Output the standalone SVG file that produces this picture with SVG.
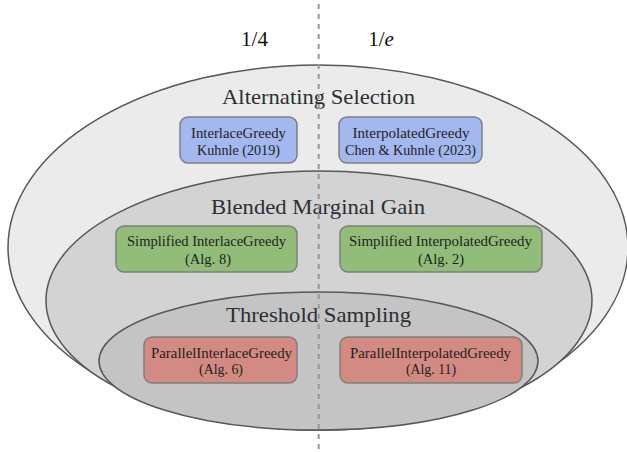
<svg xmlns="http://www.w3.org/2000/svg" width="627" height="452" viewBox="0 0 627 452">
<style>
.ell{stroke:#575757;stroke-width:1.5}
.box{stroke:#7f7f7f;stroke-width:1.5}
.blue{fill:#a3b8ef}
.green{fill:#91bd79}
.red{fill:#d38a83}
text{font-family:"Liberation Serif","DejaVu Serif",serif;fill:#1e1e1e;text-anchor:middle}
.title{font-size:22px;fill:#2a2f36}
.top{font-size:21px;fill:#111}
.lbl{font-size:14px}
</style>
<rect width="627" height="452" fill="#ffffff"/>
<g id="alternating-selection">
<ellipse class="ell" cx="318" cy="247.5" rx="310" ry="182.5" fill="#ebebeb"/>
<text class="title" x="318.5" y="104" textLength="193" lengthAdjust="spacingAndGlyphs">Alternating Selection</text>
</g>
<g id="blended-marginal-gain">
<ellipse class="ell" cx="319" cy="300.5" rx="273" ry="129.5" fill="#d3d3d3"/>
<text class="title" x="318" y="214" textLength="214" lengthAdjust="spacingAndGlyphs">Blended Marginal Gain</text>
</g>
<g id="threshold-sampling">
<ellipse class="ell" cx="318.5" cy="361" rx="219.5" ry="69" fill="#c4c4c4"/>
<text class="title" x="318.5" y="322" textLength="185" lengthAdjust="spacingAndGlyphs">Threshold Sampling</text>
</g>
<g id="connectors">
<line x1="318.7" y1="4" x2="318.7" y2="450" stroke="#979797" stroke-width="2" stroke-dasharray="5 5"/>
</g>
<g id="label-quarter">
<text class="top" x="254.5" y="46">1/4</text>
</g>
<g id="label-e">
<text class="top" x="381" y="46">1/<tspan font-style="italic">e</tspan></text>
</g>
<g id="interlace-greedy">
<rect class="box blue" x="180" y="117" width="117" height="46" rx="8"/>
<text class="lbl" x="238.5" y="137.5" textLength="95" lengthAdjust="spacingAndGlyphs">InterlaceGreedy</text>
<text class="lbl" x="238.5" y="155" textLength="83" lengthAdjust="spacingAndGlyphs">Kuhnle (2019)</text>
</g>
<g id="interpolated-greedy">
<rect class="box blue" x="339" y="117" width="143" height="46" rx="8"/>
<text class="lbl" x="411" y="137.5" textLength="117" lengthAdjust="spacingAndGlyphs">InterpolatedGreedy</text>
<text class="lbl" x="410.5" y="155" textLength="131" lengthAdjust="spacingAndGlyphs">Chen &amp; Kuhnle (2023)</text>
</g>
<g id="simplified-interlace-greedy">
<rect class="box green" x="116" y="226" width="181" height="46" rx="8"/>
<text class="lbl" x="206.5" y="246" textLength="159" lengthAdjust="spacingAndGlyphs">Simplified InterlaceGreedy</text>
<text class="lbl" x="208" y="264" textLength="46" lengthAdjust="spacingAndGlyphs">(Alg. 8)</text>
</g>
<g id="simplified-interpolated-greedy">
<rect class="box green" x="340" y="226" width="202" height="46" rx="8"/>
<text class="lbl" x="440.5" y="246" textLength="183" lengthAdjust="spacingAndGlyphs">Simplified InterpolatedGreedy</text>
<text class="lbl" x="441" y="264" textLength="46" lengthAdjust="spacingAndGlyphs">(Alg. 2)</text>
</g>
<g id="parallel-interlace-greedy">
<rect class="box red" x="144" y="337" width="153" height="46" rx="8"/>
<text class="lbl" x="221.5" y="357.5" textLength="141" lengthAdjust="spacingAndGlyphs">ParallelInterlaceGreedy</text>
<text class="lbl" x="221" y="374" textLength="44" lengthAdjust="spacingAndGlyphs">(Alg. 6)</text>
</g>
<g id="parallel-interpolated-greedy">
<rect class="box red" x="340" y="337" width="182" height="46" rx="8"/>
<text class="lbl" x="430.5" y="357.5" textLength="161" lengthAdjust="spacingAndGlyphs">ParallelInterpolatedGreedy</text>
<text class="lbl" x="431" y="374" textLength="50" lengthAdjust="spacingAndGlyphs">(Alg. 11)</text>
</g>
</svg>
